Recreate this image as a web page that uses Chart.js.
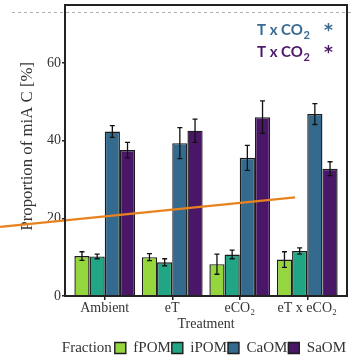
<!DOCTYPE html>
<html lang="en">
<head>
<meta charset="UTF-8">
<title>Proportion of miA C</title>
<script src="https://cdn.jsdelivr.net/npm/chart.js"></script>
<style>
  body { margin: 0; background: #fff; }
</style>
</head>
<body>
<canvas id="miaChart" width="353" height="357"></canvas>
<script>
// treatments and fraction means / errors
const treatments = ['Ambient', 'eT', 'eCO\u2082', 'eT x eCO\u2082'];
const fPOM = [10.3, 10.0, 8.2, 9.4];
const fPOMErr = [1.1, 0.9, 2.6, 2.0];
const iPOM = [10.2, 8.7, 10.7, 11.6];
const iPOMErr = [0.6, 0.9, 1.1, 0.8];
const CaOM = [42.4, 39.4, 35.6, 46.9];
const CaOMErr = [1.5, 4.0, 3.2, 2.7];
const SaOM = [37.6, 42.6, 46.1, 32.8];
const SaOMErr = [2.0, 3.0, 4.2, 1.8];

// overlaid orange line (x in category-index units)
const trendX = [-1.55, 2.82];
const trendY = [17.8, 25.4];
const guideY = 73.2;

const yTicks = [0, 20, 40, 60];

const serif = 'Liberation Serif';
const colors = ['#95d63f', '#22a584', '#336a8e', '#4a1768'];

const errs = [fPOMErr, iPOMErr, CaOMErr, SaOMErr];

// shrink the category axis a little inside the frame
const insetPlugin = {
    id: 'inset',
    afterLayout(chart) {
        const s = chart.scales.x;
        s.left += 6;
        s.right -= 6;
        s.width = s.right - s.left;
        s.configure();
    }
};

const decorPlugin = {
    id: 'decor',
    beforeDatasetsDraw(chart) {
        const ctx = chart.ctx;
        const y = Math.round(chart.scales.y.getPixelForValue(guideY)) + 0.5;
        ctx.save();
        ctx.strokeStyle = '#b0b0b0';
        ctx.lineWidth = 1;
        ctx.setLineDash([3, 3]);
        ctx.beginPath();
        ctx.moveTo(12, y);
        ctx.lineTo(chart.width, y);
        ctx.stroke();
        ctx.restore();
    },
    afterDatasetsDraw(chart) {
        const ctx = chart.ctx;
        const xScale = chart.scales.x;
        const yScale = chart.scales.y;
        ctx.save();
        ctx.strokeStyle = '#111';
        ctx.lineWidth = 1.3;
        for (let d = 0; d < 4; d++) {
            const meta = chart.getDatasetMeta(d);
            meta.data.forEach((bar, j) => {
                const v = chart.data.datasets[d].data[j];
                const e = errs[d][j];
                const top = yScale.getPixelForValue(v + e);
                const bot = yScale.getPixelForValue(v - e);
                ctx.beginPath();
                ctx.moveTo(bar.x, top); ctx.lineTo(bar.x, bot);
                ctx.moveTo(bar.x - 2.5, top); ctx.lineTo(bar.x + 2.5, top);
                ctx.moveTo(bar.x - 2.5, bot); ctx.lineTo(bar.x + 2.5, bot);
                ctx.stroke();
            });
        }
        // orange overlay line
        ctx.strokeStyle = '#e8821e';
        ctx.lineWidth = 2.2;
        ctx.beginPath();
        trendX.forEach((x, i) => {
            const px = xScale.getPixelForValue(x);
            const py = yScale.getPixelForValue(trendY[i]);
            if (i === 0) ctx.moveTo(px, py); else ctx.lineTo(px, py);
        });
        ctx.stroke();
        ctx.restore();
    },
    afterDraw(chart) {
        const ctx = chart.ctx;
        const a = chart.chartArea;
        ctx.save();
        // frame
        ctx.strokeStyle = '#222';
        ctx.lineWidth = 2;
        ctx.strokeRect(a.left, a.top, a.right - a.left, a.bottom - a.top);

        // annotation text
        const lines = [['#3b6a92', a.top + 29.7], ['#4d1a6a', a.top + 52]];
        lines.forEach(([col, y]) => {
            ctx.fillStyle = col;
            ctx.textBaseline = 'alphabetic';
            ctx.textAlign = 'left';
            ctx.font = 'bold 15px Lato';
            let x = a.left + 192;
            ctx.fillText('T x CO', x, y);
            x += ctx.measureText('T x CO').width + 0.5;
            ctx.font = 'bold 11px Lato';
            ctx.fillText('2', x, y + 4);
            ctx.font = 'bold 17px "DejaVu Sans"';
            ctx.fillText('*', a.left + 259, y + 1.3);
        });

        // legend title
        const box = chart.legend.legendHitBoxes[0];
        ctx.fillStyle = '#333';
        ctx.font = '15px ' + serif;
        ctx.textAlign = 'right';
        ctx.textBaseline = 'middle';
        ctx.fillText('Fraction', box.left - 3, box.top + box.height / 2);
        ctx.restore();
    }
};

const barSet = (label, data, i) => ({
    label: label,
    data: data,
    backgroundColor: colors[i],
    borderColor: '#1c1c1c',
    borderWidth: 1.4,
    categoryPercentage: 0.9,
    barPercentage: 1.0
});

new Chart(document.getElementById('miaChart'), {
    type: 'bar',
    data: {
        labels: treatments,
        datasets: [
            barSet('fPOM', fPOM, 0),
            barSet('iPOM', iPOM, 1),
            barSet('CaOM', CaOM, 2),
            barSet('SaOM', SaOM, 3)
        ]
    },
    options: {
        responsive: false,
        animation: false,
        layout: { padding: { left: 0, right: 6, top: 5, bottom: -8.5 } },
        plugins: {
            tooltip: { enabled: false },
            legend: {
                position: 'bottom',
                align: 'end',
                labels: {
                    font: { family: serif, size: 15 },
                    color: '#333',
                    boxWidth: 11,
                    boxHeight: 11,
                    padding: 1
                }
            }
        },
        scales: {
            x: {
                offset: true,
                grid: { display: true, drawOnChartArea: false, offset: false, tickLength: 4, color: '#222', lineWidth: 1.5 },
                border: { display: false },
                ticks: { font: { family: serif, size: 14 }, color: '#333', padding: 0 },
                title: { display: true, text: 'Treatment', font: { family: serif, size: 14 }, color: '#333', padding: { top: 0, bottom: 7 } },
                afterFit: s => { s.height = 43.5; }
            },
            y: {
                min: 0,
                max: 75,
                afterBuildTicks: s => { s.ticks = yTicks.map(v => ({ value: v })); },
                grid: { display: true, drawOnChartArea: false, tickLength: 3, color: '#222', lineWidth: 1.5 },
                border: { display: false },
                ticks: { font: { family: serif, size: 14 }, color: '#333', padding: 1 },
                title: { display: true, text: '\u2002Proportion of miA C [%]', font: { family: serif, size: 16.8 }, color: '#333', padding: { top: 18, bottom: 0 } },
                afterFit: s => { s.width = 65; s.paddingTop = 0; s.paddingBottom = 0; }
            }
        }
    },
    plugins: [insetPlugin, decorPlugin]
});
</script>
</body>
</html>
